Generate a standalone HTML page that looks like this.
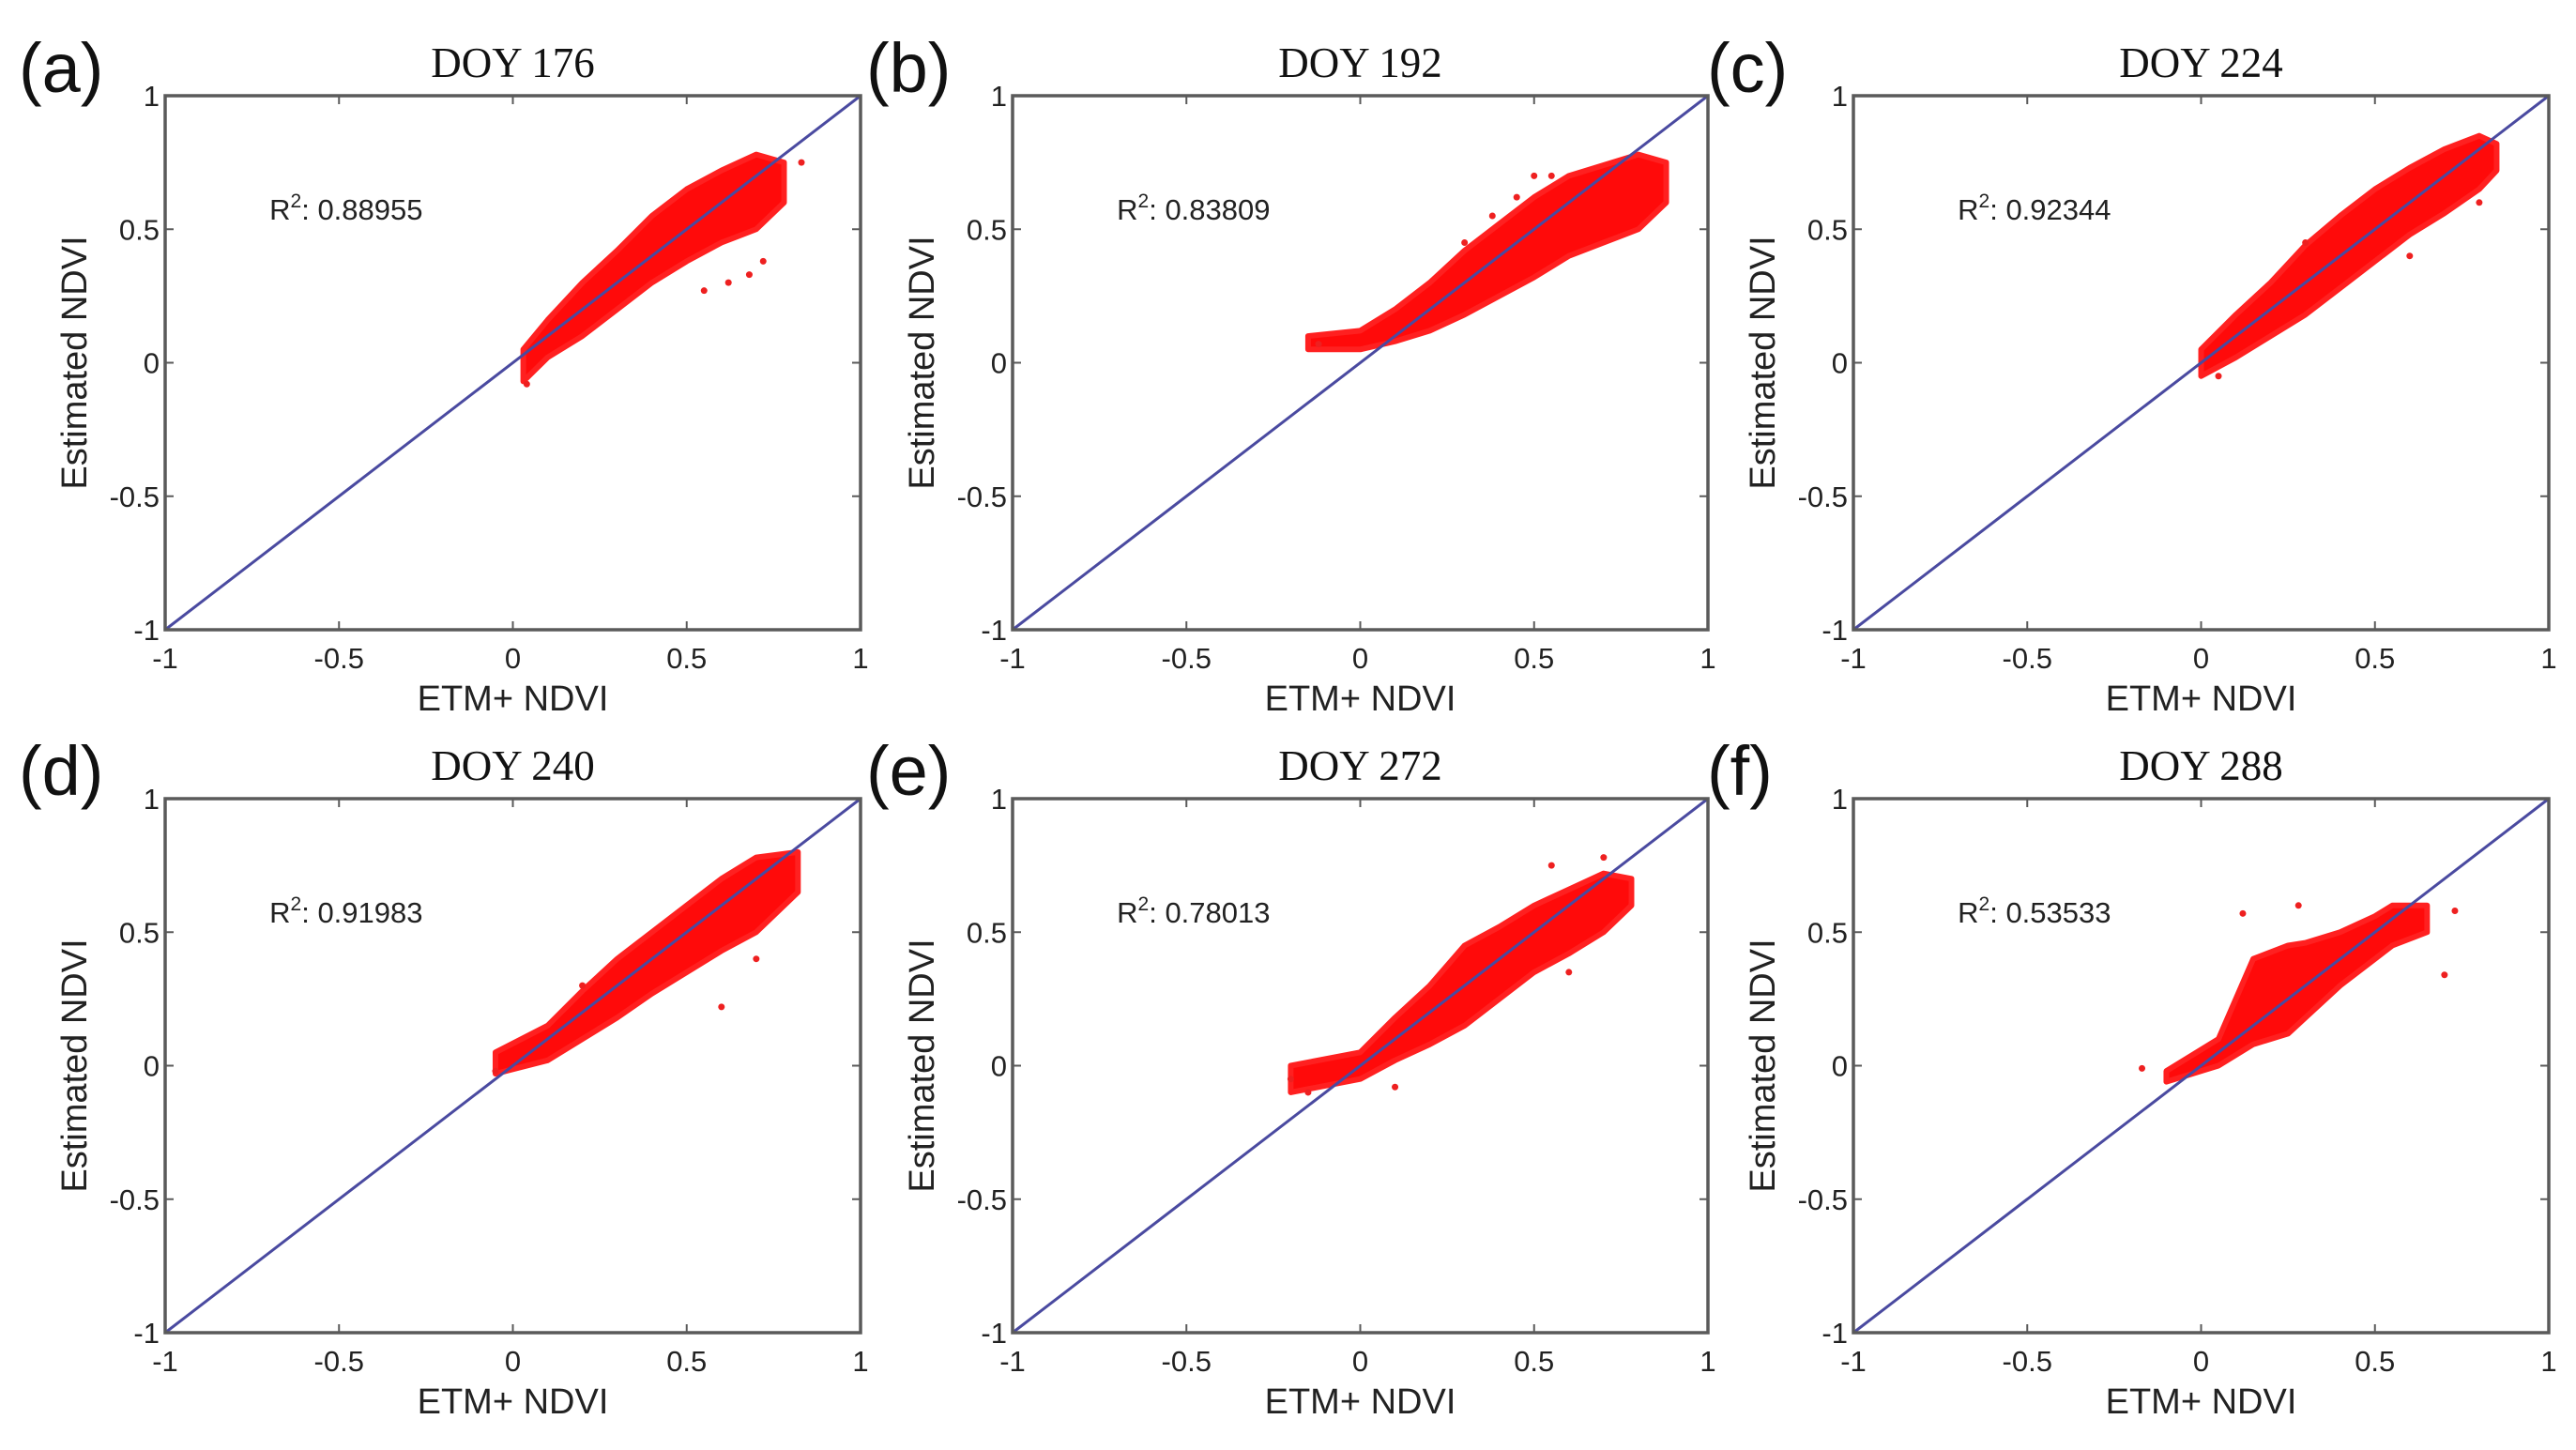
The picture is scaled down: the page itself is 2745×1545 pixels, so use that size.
<!DOCTYPE html>
<html><head><meta charset="utf-8"><style>
html,body{margin:0;padding:0;background:#fff;}
svg{display:block;}
</style></head><body>
<svg id="fig" width="2745" height="1545" viewBox="0 0 2745 1545" xmlns="http://www.w3.org/2000/svg"></svg>
<script>
// ---- data ----
const panelIds = ['a','b','c','d','e','f'];
const panelTitles = ['DOY 176','DOY 192','DOY 224','DOY 240','DOY 272','DOY 288'];
const r2Values = ['0.88955','0.83809','0.92344','0.91983','0.78013','0.53533'];
const xTicks = [-1,-0.5,0,0.5,1];
const yTicks = [-1,-0.5,0,0.5,1];
const tickLabels = ['-1','-0.5','0','0.5','1'];
// cloud envelopes: x knots with lower/upper bounds (data units)
const cloudX_a = [0.03,0.1,0.2,0.3,0.4,0.5,0.6,0.7,0.78];
const cloudLo_a = [-0.07,0.02,0.1,0.2,0.3,0.38,0.45,0.5,0.6];
const cloudHi_a = [0.05,0.16,0.3,0.42,0.55,0.65,0.72,0.78,0.75];
const cloudX_b = [-0.15,0,0.1,0.2,0.3,0.4,0.5,0.6,0.7,0.8,0.88];
const cloudLo_b = [0.05,0.05,0.08,0.12,0.18,0.25,0.32,0.4,0.45,0.5,0.6];
const cloudHi_b = [0.1,0.12,0.2,0.3,0.42,0.52,0.62,0.7,0.74,0.78,0.75];
const cloudX_c = [0,0.1,0.2,0.3,0.4,0.5,0.6,0.7,0.8,0.85];
const cloudLo_c = [-0.05,0.02,0.1,0.18,0.28,0.38,0.48,0.56,0.65,0.72];
const cloudHi_c = [0.05,0.18,0.3,0.44,0.55,0.65,0.73,0.8,0.85,0.82];
const cloudX_d = [-0.05,0.1,0.2,0.3,0.4,0.5,0.6,0.7,0.82];
const cloudLo_d = [-0.03,0.02,0.1,0.18,0.27,0.35,0.43,0.5,0.65];
const cloudHi_d = [0.05,0.15,0.28,0.4,0.5,0.6,0.7,0.78,0.8];
const cloudX_e = [-0.2,0,0.1,0.2,0.3,0.4,0.5,0.6,0.7,0.78];
const cloudLo_e = [-0.1,-0.05,0.02,0.08,0.15,0.25,0.35,0.42,0.5,0.6];
const cloudHi_e = [0,0.05,0.18,0.3,0.45,0.52,0.6,0.66,0.72,0.7];
const cloudX_f = [-0.1,0.05,0.15,0.25,0.3,0.4,0.5,0.55,0.65];
const cloudLo_f = [-0.06,0,0.08,0.12,0.18,0.3,0.4,0.45,0.5];
const cloudHi_f = [-0.02,0.1,0.4,0.45,0.46,0.5,0.56,0.6,0.6];
// outlier points [x,y]
const outliers_a = [[0.83,0.75],[0.62,0.3],[0.72,0.38],[0.55,0.27],[0.04,-0.08],[0.68,0.33]];
const outliers_b = [[0.5,0.7],[0.45,0.62],[0.38,0.55],[0.55,0.7],[-0.12,0.07],[0.3,0.45]];
const outliers_c = [[0.05,-0.05],[0.3,0.45],[0.6,0.4],[0.8,0.6]];
const outliers_d = [[-0.05,-0.02],[0.6,0.22],[0.7,0.4],[0.2,0.3]];
const outliers_e = [[-0.2,-0.05],[-0.15,-0.1],[0.1,-0.08],[0.7,0.78],[0.55,0.75],[0.6,0.35]];
const outliers_f = [[-0.17,-0.01],[0.12,0.57],[0.7,0.34],[0.73,0.58],[0.28,0.6]];

const cloudsX = [cloudX_a,cloudX_b,cloudX_c,cloudX_d,cloudX_e,cloudX_f];
const cloudsLo = [cloudLo_a,cloudLo_b,cloudLo_c,cloudLo_d,cloudLo_e,cloudLo_f];
const cloudsHi = [cloudHi_a,cloudHi_b,cloudHi_c,cloudHi_d,cloudHi_e,cloudHi_f];
const outlierSets = [outliers_a,outliers_b,outliers_c,outliers_d,outliers_e,outliers_f];

// ---- layout ----
const NS='http://www.w3.org/2000/svg';
const svg=document.getElementById('fig');
const lefts=[176,1079,1975];
const tops=[102,851];
const W=741,H=569;
function mk(tag,attrs,parent){const e=document.createElementNS(NS,tag);for(const k in attrs)e.setAttribute(k,attrs[k]);(parent||svg).appendChild(e);return e;}

panelIds.forEach((id,i)=>{
  const L=lefts[i%3],T=tops[Math.floor(i/3)];
  const sx=v=>L+(v+1)/2*W;
  const sy=v=>T+H-(v+1)/2*H;
  const g=mk('g',{});
  
  
  const pl=mk('text',{x:L-156,y:T-4,'font-family':'Liberation Sans, sans-serif','font-size':74,fill:'#111'},g);
  pl.textContent='('+id+')';
  
  
  const tt=mk('text',{x:L+W/2,y:T-20,'text-anchor':'middle','font-family':'Liberation Serif, serif','font-size':45,fill:'#111'},g);
  tt.textContent=panelTitles[i];
  
  
  const xs=cloudsX[i],lo=cloudsLo[i],hi=cloudsHi[i];
  let pts=[];
  for(let k=0;k<xs.length;k++)pts.push(sx(xs[k])+','+sy(hi[k]));
  for(let k=xs.length-1;k>=0;k--)pts.push(sx(xs[k])+','+sy(lo[k]));
  const cl=mk('polygon',{points:pts.join(' '),fill:'#ff0a0a',stroke:'#ff2020','stroke-width':6,'stroke-linejoin':'round'},g);
  
  
  outlierSets[i].forEach(p=>{
    const c=mk('circle',{cx:sx(p[0]),cy:sy(p[1]),r:3.5,fill:'#ee2020'},g);
    
    
  });
  const dl=mk('line',{x1:sx(-1),y1:sy(-1),x2:sx(1),y2:sy(1),stroke:'#4a4aa0','stroke-width':3},g);
  
  
  const fr=mk('rect',{x:L,y:T,width:W,height:H,fill:'none',stroke:'#5a5a5a','stroke-width':3.5},g);
  
  
  xTicks.forEach((v,k)=>{
    mk('line',{x1:sx(v),y1:T+H,x2:sx(v),y2:T+H-9,stroke:'#5a5a5a','stroke-width':2},g);
    mk('line',{x1:sx(v),y1:T,x2:sx(v),y2:T+9,stroke:'#5a5a5a','stroke-width':2},g);
    const t=mk('text',{x:sx(v),y:T+H+41,'text-anchor':'middle','font-family':'Liberation Sans, sans-serif','font-size':31,fill:'#222'},g);
    t.textContent=tickLabels[k];
    
    
  });
  yTicks.forEach((v,k)=>{
    mk('line',{x1:L,y1:sy(v),x2:L+9,y2:sy(v),stroke:'#5a5a5a','stroke-width':2},g);
    mk('line',{x1:L+W,y1:sy(v),x2:L+W-9,y2:sy(v),stroke:'#5a5a5a','stroke-width':2},g);
    const t=mk('text',{x:L-6,y:sy(v)+11,'text-anchor':'end','font-family':'Liberation Sans, sans-serif','font-size':31,fill:'#222'},g);
    t.textContent=tickLabels[k];
    
    
  });
  const xl=mk('text',{x:L+W/2,y:T+H+86,'text-anchor':'middle','font-family':'Liberation Sans, sans-serif','font-size':38,fill:'#222'},g);
  xl.textContent='ETM+ NDVI';
  
  
  const yx=L-84,yy=T+H/2;
  const yl=mk('text',{x:yx,y:yy,'text-anchor':'middle','font-family':'Liberation Sans, sans-serif','font-size':38,fill:'#222',transform:'rotate(-90 '+yx+' '+yy+')'},g);
  yl.textContent='Estimated NDVI';
  
  
  const r=mk('text',{x:sx(-0.70),y:sy(0.575)+11,'font-family':'Liberation Sans, sans-serif','font-size':31,fill:'#222'},g);
  
  
  const t1=mk('tspan',{},r);t1.textContent='R';
  const t2=mk('tspan',{dy:-13,'font-size':21},r);t2.textContent='2';
  const t3=mk('tspan',{dy:13},r);t3.textContent=': '+r2Values[i];
});
</script>
</body></html>
